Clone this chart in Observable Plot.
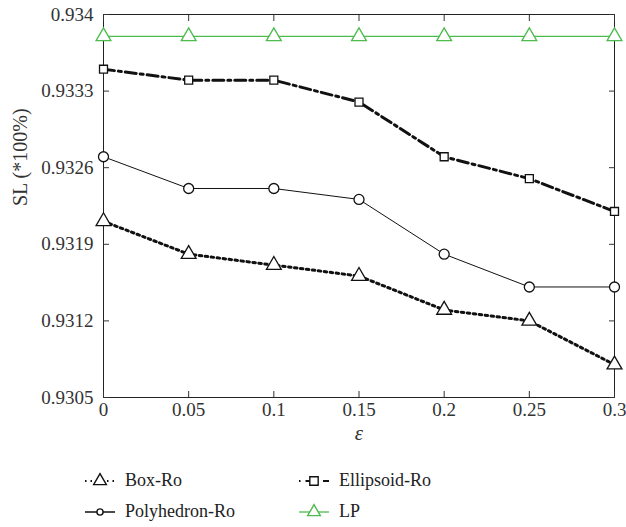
<!DOCTYPE html>
<html>
<head>
<meta charset="utf-8">
<script src="https://cdn.jsdelivr.net/npm/d3@7"></script>
<script src="https://cdn.jsdelivr.net/npm/@observablehq/plot@0.6"></script>
<style>
  body { margin: 0; background: #fff; font-family: "Liberation Serif", "DejaVu Serif", serif; }
  #chart svg { display: block; }
  #chart svg text { font-family: "Liberation Serif", "DejaVu Serif", serif; }
  .legend { display: grid; grid-template-columns: 214px 240px; margin-left: 84px; row-gap: 6px; margin-top: 13px; font-size: 18px; color: #222; font-family: "Liberation Serif", serif; }
  .item { display: flex; align-items: center; height: 25px; }
  .item svg { margin-right: 9px; }
</style>
</head>
<body>
<div id="chart"></div>
<div class="legend" id="legend"></div>
<script>
const eps = [0, 0.05, 0.1, 0.15, 0.2, 0.25, 0.3];
const boxRo = [0.93211, 0.93181, 0.93171, 0.93161, 0.93130, 0.93120, 0.93080];
const polyRo = [0.93270, 0.93241, 0.93241, 0.93231, 0.93181, 0.93151, 0.93151];
const ellRo = [0.93350, 0.93340, 0.93340, 0.93320, 0.93270, 0.93250, 0.93220];
const lp = [0.93380, 0.93380, 0.93380, 0.93380, 0.93380, 0.93380, 0.93380];
const yTicks = [0.9305, 0.9312, 0.9319, 0.9326, 0.9333, 0.934];
const xTicks = [0, 0.05, 0.1, 0.15, 0.2, 0.25, 0.3];
const seriesNames = ["Box-Ro", "Polyhedron-Ro", "Ellipsoid-Ro", "LP"];

const green = "#4cbb4c";
const styles = {
  "Box-Ro": {stroke: "#111", strokeWidth: 3, dash: "2.5,3.5", symbol: "triangle", r: 5.5, color: "#111"},
  "Polyhedron-Ro": {stroke: "#111", strokeWidth: 1, dash: null, symbol: "circle", r: 5, color: "#111"},
  "Ellipsoid-Ro": {stroke: "#111", strokeWidth: 3, dash: "11,4,3,4", symbol: "square", r: 4.5, color: "#111"},
  "LP": {stroke: green, strokeWidth: 1.3, dash: null, symbol: "triangle", r: 5.5, color: green}
};
const valuesBy = {"Box-Ro": boxRo, "Polyhedron-Ro": polyRo, "Ellipsoid-Ro": ellRo, "LP": lp};

const marks = [];
for (const name of seriesNames) {
  const s = styles[name];
  const data = eps.map((e, i) => ({x: e, y: valuesBy[name][i]}));
  marks.push(Plot.line(data, {x: "x", y: "y", stroke: s.stroke, strokeWidth: s.strokeWidth, strokeDasharray: s.dash}));
  marks.push(Plot.dot(data, {x: "x", y: "y", symbol: () => s.symbol, r: s.r, stroke: s.color, strokeWidth: 1.3, fill: "white"}));
}

const F = "'Liberation Serif', 'DejaVu Serif', serif";
const chart = Plot.plot({
  width: 626,
  height: 455,
  marginLeft: 103,
  marginRight: 12,
  marginTop: 14,
  marginBottom: 58,
  style: {fontFamily: F, fontSize: "19px", color: "#333", background: "white"},
  x: {domain: [0, 0.3], axis: null},
  y: {domain: [0.9305, 0.934], axis: null},
  marks: [
    Plot.frame({stroke: "#222"}),
    Plot.axisX({ticks: xTicks, tickSize: -6, text: null, label: null}),
    Plot.axisX({anchor: "top", ticks: xTicks, tickSize: -6, text: null, label: null}),
    Plot.axisY({ticks: yTicks, tickSize: -6, text: null, label: null}),
    Plot.axisY({anchor: "right", ticks: yTicks, tickSize: -6, text: null, label: null}),
    Plot.text(xTicks, {x: d => d, text: d => String(d), frameAnchor: "bottom", dy: 18, fontSize: 19, fill: "#333"}),
    Plot.text(yTicks, {y: d => d, text: d => String(d), frameAnchor: "left", dx: -10, textAnchor: "end", fontSize: 19, fill: "#333"}),
    Plot.text(["SL (*100%)"], {frameAnchor: "left", dx: -83, rotate: -90, fontSize: 20, fill: "#333"}),
    Plot.text(["ε"], {frameAnchor: "bottom", dy: 42, fontSize: 21, fontStyle: "italic", fill: "#333"}),
    ...marks
  ]
});
document.getElementById("chart").appendChild(chart);

// Legend
const order = ["Box-Ro", "Ellipsoid-Ro", "Polyhedron-Ro", "LP"];
const leg = document.getElementById("legend");
for (const name of order) {
  const s = styles[name];
  const item = document.createElement("div");
  item.className = "item";
  const sw = d3.create("svg").attr("width", 32).attr("height", 20);
  sw.append("line").attr("x1", 1).attr("x2", 31).attr("y1", 10).attr("y2", 10)
    .attr("stroke", s.stroke).attr("stroke-width", name === "Polyhedron-Ro" ? 1.5 : (s.strokeWidth > 2 ? 2 : s.strokeWidth))
    .attr("stroke-dasharray", name === "Box-Ro" ? "1.5,4" : name === "Ellipsoid-Ro" ? "1.5,5,8,3" : null);
  const sym = s.symbol === "triangle" ? d3.symbolTriangle : s.symbol === "square" ? d3.symbolSquare : d3.symbolCircle;
  const size = s.symbol === "circle" ? 30 : 70;
  sw.append("path").attr("d", d3.symbol(sym, size)()).attr("transform", "translate(16,10)")
    .attr("fill", "white").attr("stroke", s.color).attr("stroke-width", 1.4);
  item.appendChild(sw.node());
  const t = document.createElement("span");
  t.textContent = name;
  item.appendChild(t);
  leg.appendChild(item);
}
</script>
</body>
</html>
